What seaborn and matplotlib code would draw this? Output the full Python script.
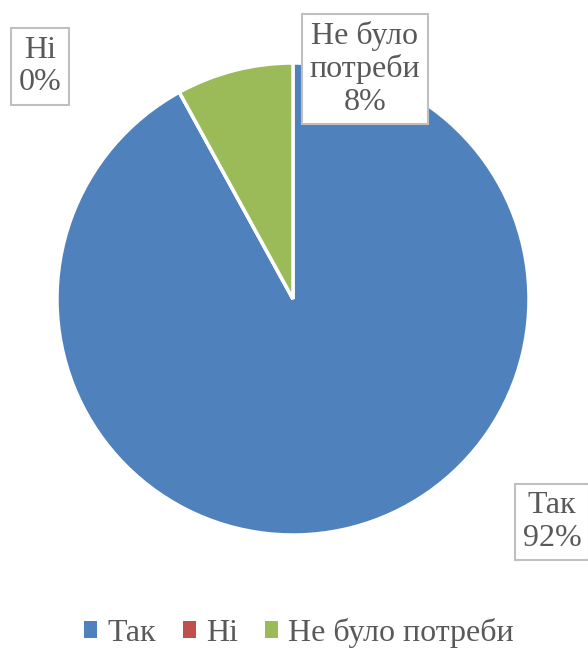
import matplotlib
matplotlib.use("Agg")
import matplotlib.pyplot as plt
import seaborn as sns
from matplotlib.patches import Patch

# дані
categories = ['Так', 'Ні', 'Не було потреби']
values = [92, 0, 8]
colors = ['#4F81BD', '#C0504D', '#9BBB59']

sns.set_style("white")
plt.rcParams['font.serif'] = ['Liberation Serif', 'DejaVu Serif']
plt.rcParams['font.family'] = 'serif'

fig = plt.figure(figsize=(5.88, 6.51), dpi=100)
ax = fig.add_axes([57 / 588, (651 - 535) / 651, 472 / 588, 472 / 651])

wedges, _ = ax.pie(values, colors=colors, startangle=90, counterclock=False,
                   radius=1, wedgeprops=dict(edgecolor='white', linewidth=2.5))
ax.set_xlim(-1, 1)
ax.set_ylim(-1, 1)
ax.set_aspect('equal')
ax.axis('off')

# підписи даних (позиції в координатах осей)
label_pos = [(1.097, -0.945), (-1.072, 0.985), (0.305, 0.975)]
total = sum(values)
for cat, val, (x, y) in zip(categories, values, label_pos):
    name = cat.replace('Не було потреби', 'Не було\nпотреби')
    ax.text(x, y, f"{name}\n{val / total:.0%}", ha='center', va='center',
            fontsize=23, color='#595959', linespacing=1.14, clip_on=False,
            bbox=dict(boxstyle='square,pad=0.24', fc='white', ec='#BFBFBF', lw=1.5))

handles = [Patch(facecolor=c, edgecolor='none') for c in colors]
fig.legend(handles, categories, loc='center', bbox_to_anchor=(0.508, 1 - 633 / 651),
           ncol=3, frameon=False, fontsize=23, labelcolor='#595959',
           handlelength=0.42, handleheight=0.42, handletextpad=0.3, columnspacing=0.85)

fig.savefig('out.png', dpi=100)
